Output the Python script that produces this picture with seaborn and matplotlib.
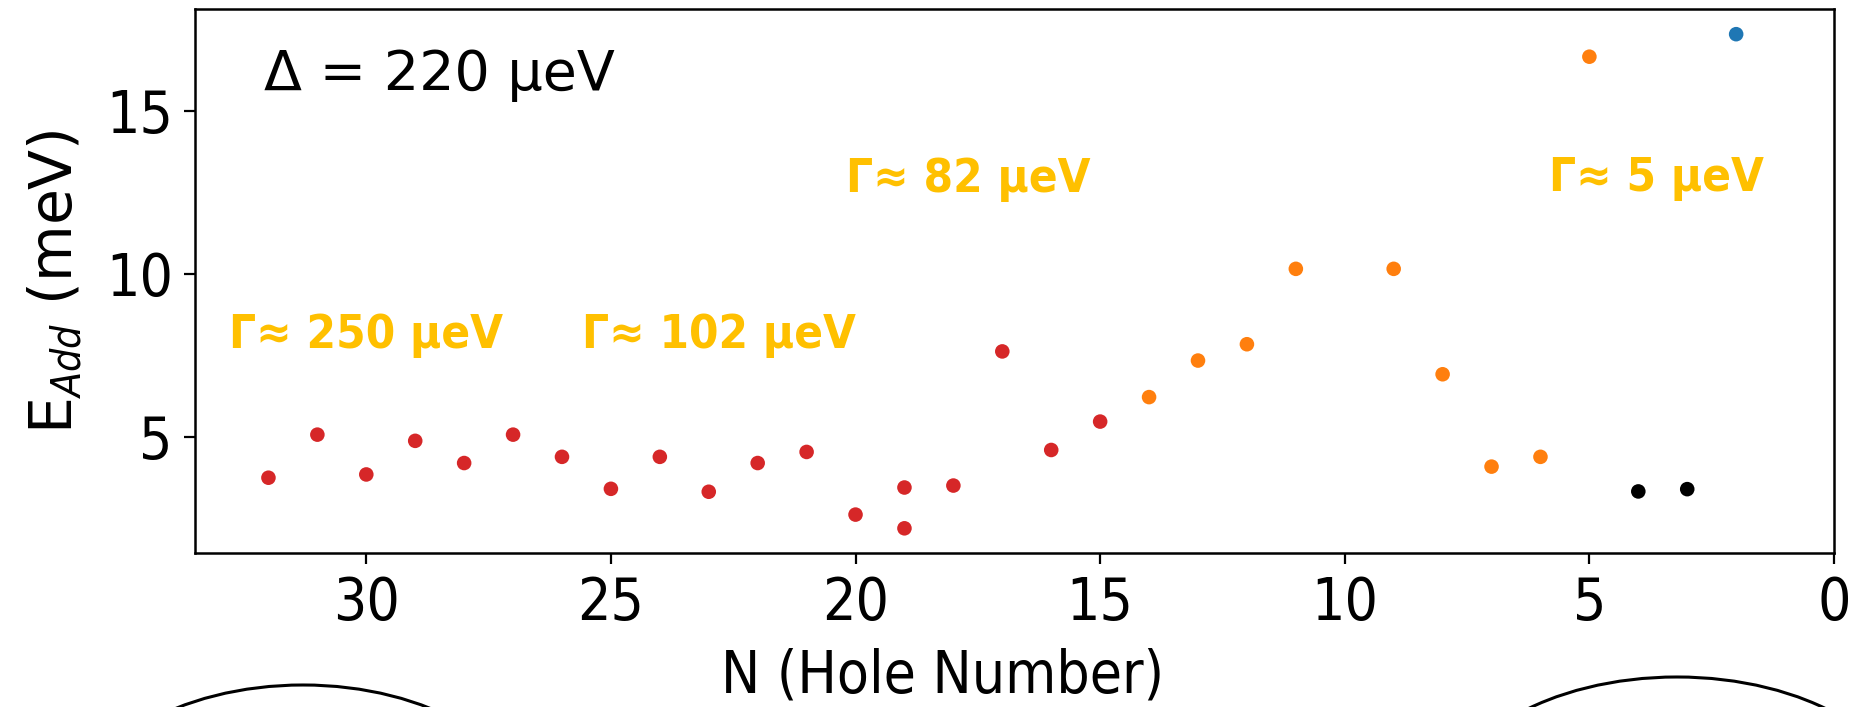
import matplotlib
matplotlib.use("Agg")
import matplotlib.pyplot as plt
import matplotlib.patches as mpatches
import seaborn as sns
import pandas as pd

# ---- data ----
hole_number = [32, 31, 30, 29, 28, 27, 26, 25, 24, 23, 22, 21, 20, 19, 19, 18, 17, 16, 15,
               14, 13, 12, 11, 9, 8, 7, 6, 5,
               4, 3,
               2]
e_add = [3.75, 5.07, 3.85, 4.88, 4.20, 5.07, 4.39, 3.41, 4.39, 3.32, 4.20, 4.54, 2.62, 3.45, 2.20, 3.51, 7.62, 4.60, 5.47,
         6.22, 7.34, 7.84, 10.15, 10.15, 6.92, 4.09, 4.39, 16.65,
         3.33, 3.40,
         17.34]
regime = (["many"] * 19) + (["few"] * 9) + (["last"] * 2) + (["single"] * 1)
regime_colors = {"many": "#d62728", "few": "#ff7f0e", "last": "#000000", "single": "#1f77b4"}

gap_label = "Δ = 220 μeV"
gamma_labels = ["Γ≈ 250 μeV", "Γ≈ 102 μeV", "Γ≈ 82 μeV", "Γ≈ 5 μeV"]
gamma_x = [32.8, 25.6, 20.2, 5.82]
gamma_y = [7.71, 7.71, 12.5, 12.55]

df = pd.DataFrame({"N": hole_number, "E": e_add, "regime": regime})

sns.set_theme(style="ticks")
plt.rcParams["font.family"] = ["DejaVu Sans"]
plt.rcParams["font.stretch"] = "condensed"

fig = plt.figure(figsize=(18.72, 7.07), dpi=100)
ax = fig.add_axes([0.1042, 0.2178, 0.8755, 0.7688])

sns.scatterplot(data=df, x="N", y="E", hue="regime", palette=regime_colors,
                s=110, linewidth=0, legend=False, ax=ax)

ax.set_xlim(33.5, 0)
ax.set_xticks([30, 25, 20, 15, 10, 5, 0])
ax.set_yticks([5, 10, 15])
ax.tick_params(axis="both", labelsize=42, length=8, width=1.6, color="black",
               labelcolor="black", pad=8)
for sp in ax.spines.values():
    sp.set_visible(True)
    sp.set_color("black")
    sp.set_linewidth(1.8)

ax.set_xlabel("N (Hole Number)", fontsize=42, color="black", labelpad=11)
ax.xaxis.label.set_x(0.456)
ax.set_ylabel(r"E$_{Add}$ (meV)", fontsize=42, color="black", labelpad=16,
              fontstretch="normal")

ax.text(32.1, 15.62, gap_label, fontsize=40, color="black", ha="left", va="baseline",
        fontstretch="normal")
for lbl, gx, gy in zip(gamma_labels, gamma_x, gamma_y):
    ax.text(gx, gy, lbl, fontsize=34, fontweight="bold", color="#FFC000",
            ha="left", va="baseline", fontstretch="condensed")

# decorative bubbles below the plot (cut by the figure edge)
W, H = 1872.0, 707.0
for cx, top, half_w in [(303, 685, 230), (1677, 677, 235)]:
    e = mpatches.Ellipse((cx / W, 1 - (top + 140) / H), 2 * half_w / W, 280 / H,
                         transform=fig.transFigure, fill=False, edgecolor="black",
                         linewidth=2.2, clip_on=False)
    fig.add_artist(e)

fig.savefig("out.png", dpi=100)
